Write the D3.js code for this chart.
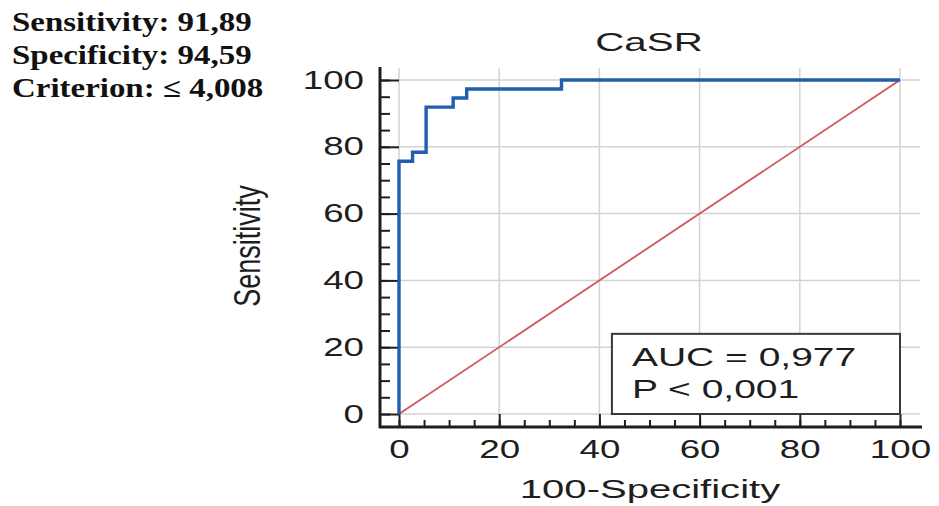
<!DOCTYPE html>
<html>
<head>
<meta charset="utf-8">
<script src="https://cdn.jsdelivr.net/npm/d3@7"></script>
<style>
  body { margin: 0; background: #fff; }
  svg { display: block; }
</style>
</head>
<body>
<div id="chart"></div>
<script>
// ROC curve points (100-Specificity, Sensitivity), step after
const fpr = [0, 0, 2.70, 5.41, 10.81, 13.51, 32.43, 100];
const tpr = [0, 75.68, 78.38, 91.89, 94.59, 97.30, 100, 100];

// reference (chance) line
const refX = [0, 100];
const refY = [0, 100];

const xTicks = [0, 20, 40, 60, 80, 100];
const yTicks = [0, 20, 40, 60, 80, 100];
const minorTicks = d3.range(0, 101, 5);

const chartTitle = "CaSR";
const xTitle = "100-Specificity";
const yTitle = "Sensitivity";
const statLines = ["Sensitivity: 91,89", "Specificity: 94,59", "Criterion: \u2264 4,008"];
const legendLines = ["AUC = 0,977", "P < 0,001"];

(function () {
  const w = 939;
  const h = 506;
  const ink = "#1e1e1e";
  const sans = "'Liberation Sans', Arial, sans-serif";

  const svg = d3.select("#chart").append("svg")
    .attr("width", w)
    .attr("height", h);

  svg.append("rect").attr("width", w).attr("height", h).attr("fill", "#fff");

  const x = d3.scaleLinear().domain([0, 100]).range([399, 900]);
  const y = d3.scaleLinear().domain([0, 100]).range([414, 80]);

  const axisX = x(0) - 19;   // y axis line sits left of the plot
  const axisY = y(0) + 13;   // x axis line sits below the plot

  // grid
  const grid = svg.append("g")
    .attr("stroke", "#d3d3d3")
    .attr("stroke-width", 1.5);

  grid.selectAll("line.v")
    .data(xTicks)
    .join("line")
      .attr("class", "v")
      .attr("x1", d => x(d)).attr("x2", d => x(d))
      .attr("y1", y(100) - 12).attr("y2", y(0));

  grid.selectAll("line.h")
    .data(yTicks)
    .join("line")
      .attr("class", "h")
      .attr("x1", x(0)).attr("x2", x(100) + 20)
      .attr("y1", d => y(d)).attr("y2", d => y(d));

  // minor ticks
  svg.append("g")
    .attr("transform", "translate(" + axisX + ",0)")
    .call(d3.axisLeft(y).tickValues(minorTicks).tickSize(-10).tickFormat(""))
    .call(g => g.select(".domain").remove())
    .call(g => g.selectAll("line").attr("stroke", ink).attr("stroke-width", 2));

  svg.append("g")
    .attr("transform", "translate(0," + axisY + ")")
    .call(d3.axisBottom(x).tickValues(minorTicks).tickSize(-7).tickFormat(""))
    .call(g => g.select(".domain").remove())
    .call(g => g.selectAll("line").attr("stroke", ink).attr("stroke-width", 2));

  // major ticks + labels
  svg.append("g")
    .attr("transform", "translate(" + axisX + ",0)")
    .call(d3.axisLeft(y).tickValues(yTicks).tickSize(-19).tickPadding(14))
    .call(g => g.select(".domain").remove())
    .call(g => g.selectAll("line").attr("stroke", ink).attr("stroke-width", 2))
    .call(g => g.selectAll("text")
      .attr("x", 0)
      .attr("transform", "translate(-16,0) scale(1.47,1)")
      .attr("fill", ink)
      .style("font-family", sans)
      .style("font-size", "25px"));

  svg.append("g")
    .attr("transform", "translate(0," + axisY + ")")
    .call(d3.axisBottom(x).tickValues(xTicks).tickSize(-13).tickPadding(13))
    .call(g => g.select(".domain").remove())
    .call(g => g.selectAll("line").attr("stroke", ink).attr("stroke-width", 2))
    .call(g => g.selectAll("text")
      .attr("y", 0)
      .attr("dy", null)
      .attr("transform", "translate(0,31) scale(1.47,1)")
      .attr("fill", ink)
      .style("font-family", sans)
      .style("font-size", "25px"));

  // axis lines
  svg.append("line")
    .attr("x1", axisX).attr("x2", axisX)
    .attr("y1", y(100) - 13).attr("y2", axisY + 1)
    .attr("stroke", ink).attr("stroke-width", 3);

  svg.append("line")
    .attr("x1", axisX - 1).attr("x2", x(100) + 22)
    .attr("y1", axisY).attr("y2", axisY)
    .attr("stroke", ink).attr("stroke-width", 3);

  // diagonal
  const line = d3.line().x(d => x(d[0])).y(d => y(d[1]));

  svg.append("path")
    .datum(d3.zip(refX, refY))
    .attr("d", line)
    .attr("fill", "none")
    .attr("stroke", "#cc5a57")
    .attr("stroke-width", 1.8);

  // ROC curve
  svg.append("path")
    .datum(d3.zip(fpr, tpr))
    .attr("d", line.curve(d3.curveStepAfter))
    .attr("fill", "none")
    .attr("stroke", "#1f5fae")
    .attr("stroke-width", 3.4);

  // legend box
  svg.append("rect")
    .attr("x", x(42.5))
    .attr("y", y(24))
    .attr("width", x(100) - x(42.5))
    .attr("height", y(0) - y(24))
    .attr("fill", "#fff")
    .attr("stroke", "#3a3a3a")
    .attr("stroke-width", 2);

  svg.selectAll("text.legend")
    .data(legendLines)
    .join("text")
      .attr("class", "legend")
      .attr("transform", (d, i) => "translate(" + (x(42.5) + 20) + "," + (366 + i * 32) + ") scale(1.5,1)")
      .attr("fill", ink)
      .style("font-family", sans)
      .style("font-size", "26px")
      .text(d => d);

  // titles
  svg.append("text")
    .attr("transform", "translate(649,51) scale(1.55,1)")
    .attr("text-anchor", "middle")
    .attr("fill", ink)
    .style("font-family", sans)
    .style("font-size", "26px")
    .text(chartTitle);

  svg.append("text")
    .attr("transform", "translate(650,498) scale(1.54,1)")
    .attr("text-anchor", "middle")
    .attr("fill", ink)
    .style("font-family", sans)
    .style("font-size", "26px")
    .text(xTitle);

  svg.append("text")
    .attr("transform", "translate(260,246) scale(1.4,1) rotate(-90)")
    .attr("text-anchor", "middle")
    .attr("fill", ink)
    .style("font-family", sans)
    .style("font-size", "27px")
    .text(yTitle);

  // stats in the corner
  svg.selectAll("text.stat")
    .data(statLines)
    .join("text")
      .attr("class", "stat")
      .attr("transform", (d, i) => "translate(12," + (31 + i * 33) + ") scale(1.22,1)")
      .attr("fill", "#111")
      .style("font-family", "'Liberation Serif', 'Times New Roman', serif")
      .style("font-weight", "bold")
      .style("font-size", "27px")
      .text(d => d);
})();
</script>
</body>
</html>
